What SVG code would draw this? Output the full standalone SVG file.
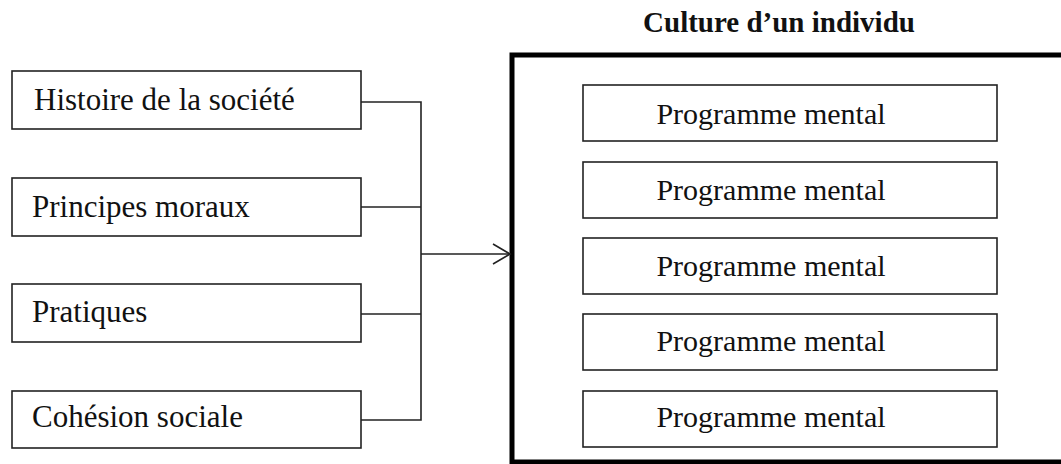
<svg xmlns="http://www.w3.org/2000/svg" width="1061" height="464" viewBox="0 0 1061 464">
<style>
.box{fill:#fff;stroke:#222;stroke-width:1.6}
.lbl{font-family:"Liberation Serif","Times New Roman",serif;font-size:30px;fill:#111}
.lft{font-size:31px}
.ttl{font-family:"Liberation Serif","Times New Roman",serif;font-size:29px;font-weight:bold;fill:#111}
.conn{fill:none;stroke:#222;stroke-width:1.6}
</style>
<defs>
<marker id="arr" markerWidth="20" markerHeight="24" refX="18" refY="11" orient="auto" markerUnits="userSpaceOnUse">
<path d="M1,1 L18,11 L1,21" fill="none" stroke="#222" stroke-width="1.6"/>
</marker>
</defs>
<rect width="1061" height="464" fill="#fff"/>
<g id="title"><text class="ttl" x="779" y="32" text-anchor="middle">Culture d’un individu</text></g>
<g id="frame"><rect x="512" y="55" width="560" height="407" fill="none" stroke="#000" stroke-width="5"/></g>
<g id="n-histoire"><rect class="box" x="12" y="71" width="349" height="58"/><text class="lbl lft" x="34" y="110">Histoire de la société</text></g>
<g id="n-principes"><rect class="box" x="12" y="178" width="349" height="58"/><text class="lbl lft" x="32" y="217">Principes moraux</text></g>
<g id="n-pratiques"><rect class="box" x="12" y="284" width="349" height="58"/><text class="lbl lft" x="32" y="322">Pratiques</text></g>
<g id="n-cohesion"><rect class="box" x="12" y="391" width="349" height="57"/><text class="lbl lft" x="32" y="427">Cohésion sociale</text></g>
<g id="p1"><rect class="box" x="583" y="85" width="414" height="56"/><text class="lbl" x="771" y="124" text-anchor="middle">Programme mental</text></g>
<g id="p2"><rect class="box" x="583" y="162" width="414" height="56"/><text class="lbl" x="771" y="200" text-anchor="middle">Programme mental</text></g>
<g id="p3"><rect class="box" x="583" y="238" width="414" height="56"/><text class="lbl" x="771" y="276" text-anchor="middle">Programme mental</text></g>
<g id="p4"><rect class="box" x="583" y="314" width="414" height="56"/><text class="lbl" x="771" y="351" text-anchor="middle">Programme mental</text></g>
<g id="p5"><rect class="box" x="583" y="391" width="414" height="56"/><text class="lbl" x="771" y="427" text-anchor="middle">Programme mental</text></g>
<g id="connectors">
<polyline class="conn" points="361,102 421,102 421,420 361,420"/>
<line class="conn" x1="361" y1="207" x2="421" y2="207"/>
<line class="conn" x1="361" y1="314" x2="421" y2="314"/>
<line class="conn" x1="421" y1="254" x2="510" y2="254" marker-end="url(#arr)"/>
</g>
</svg>
